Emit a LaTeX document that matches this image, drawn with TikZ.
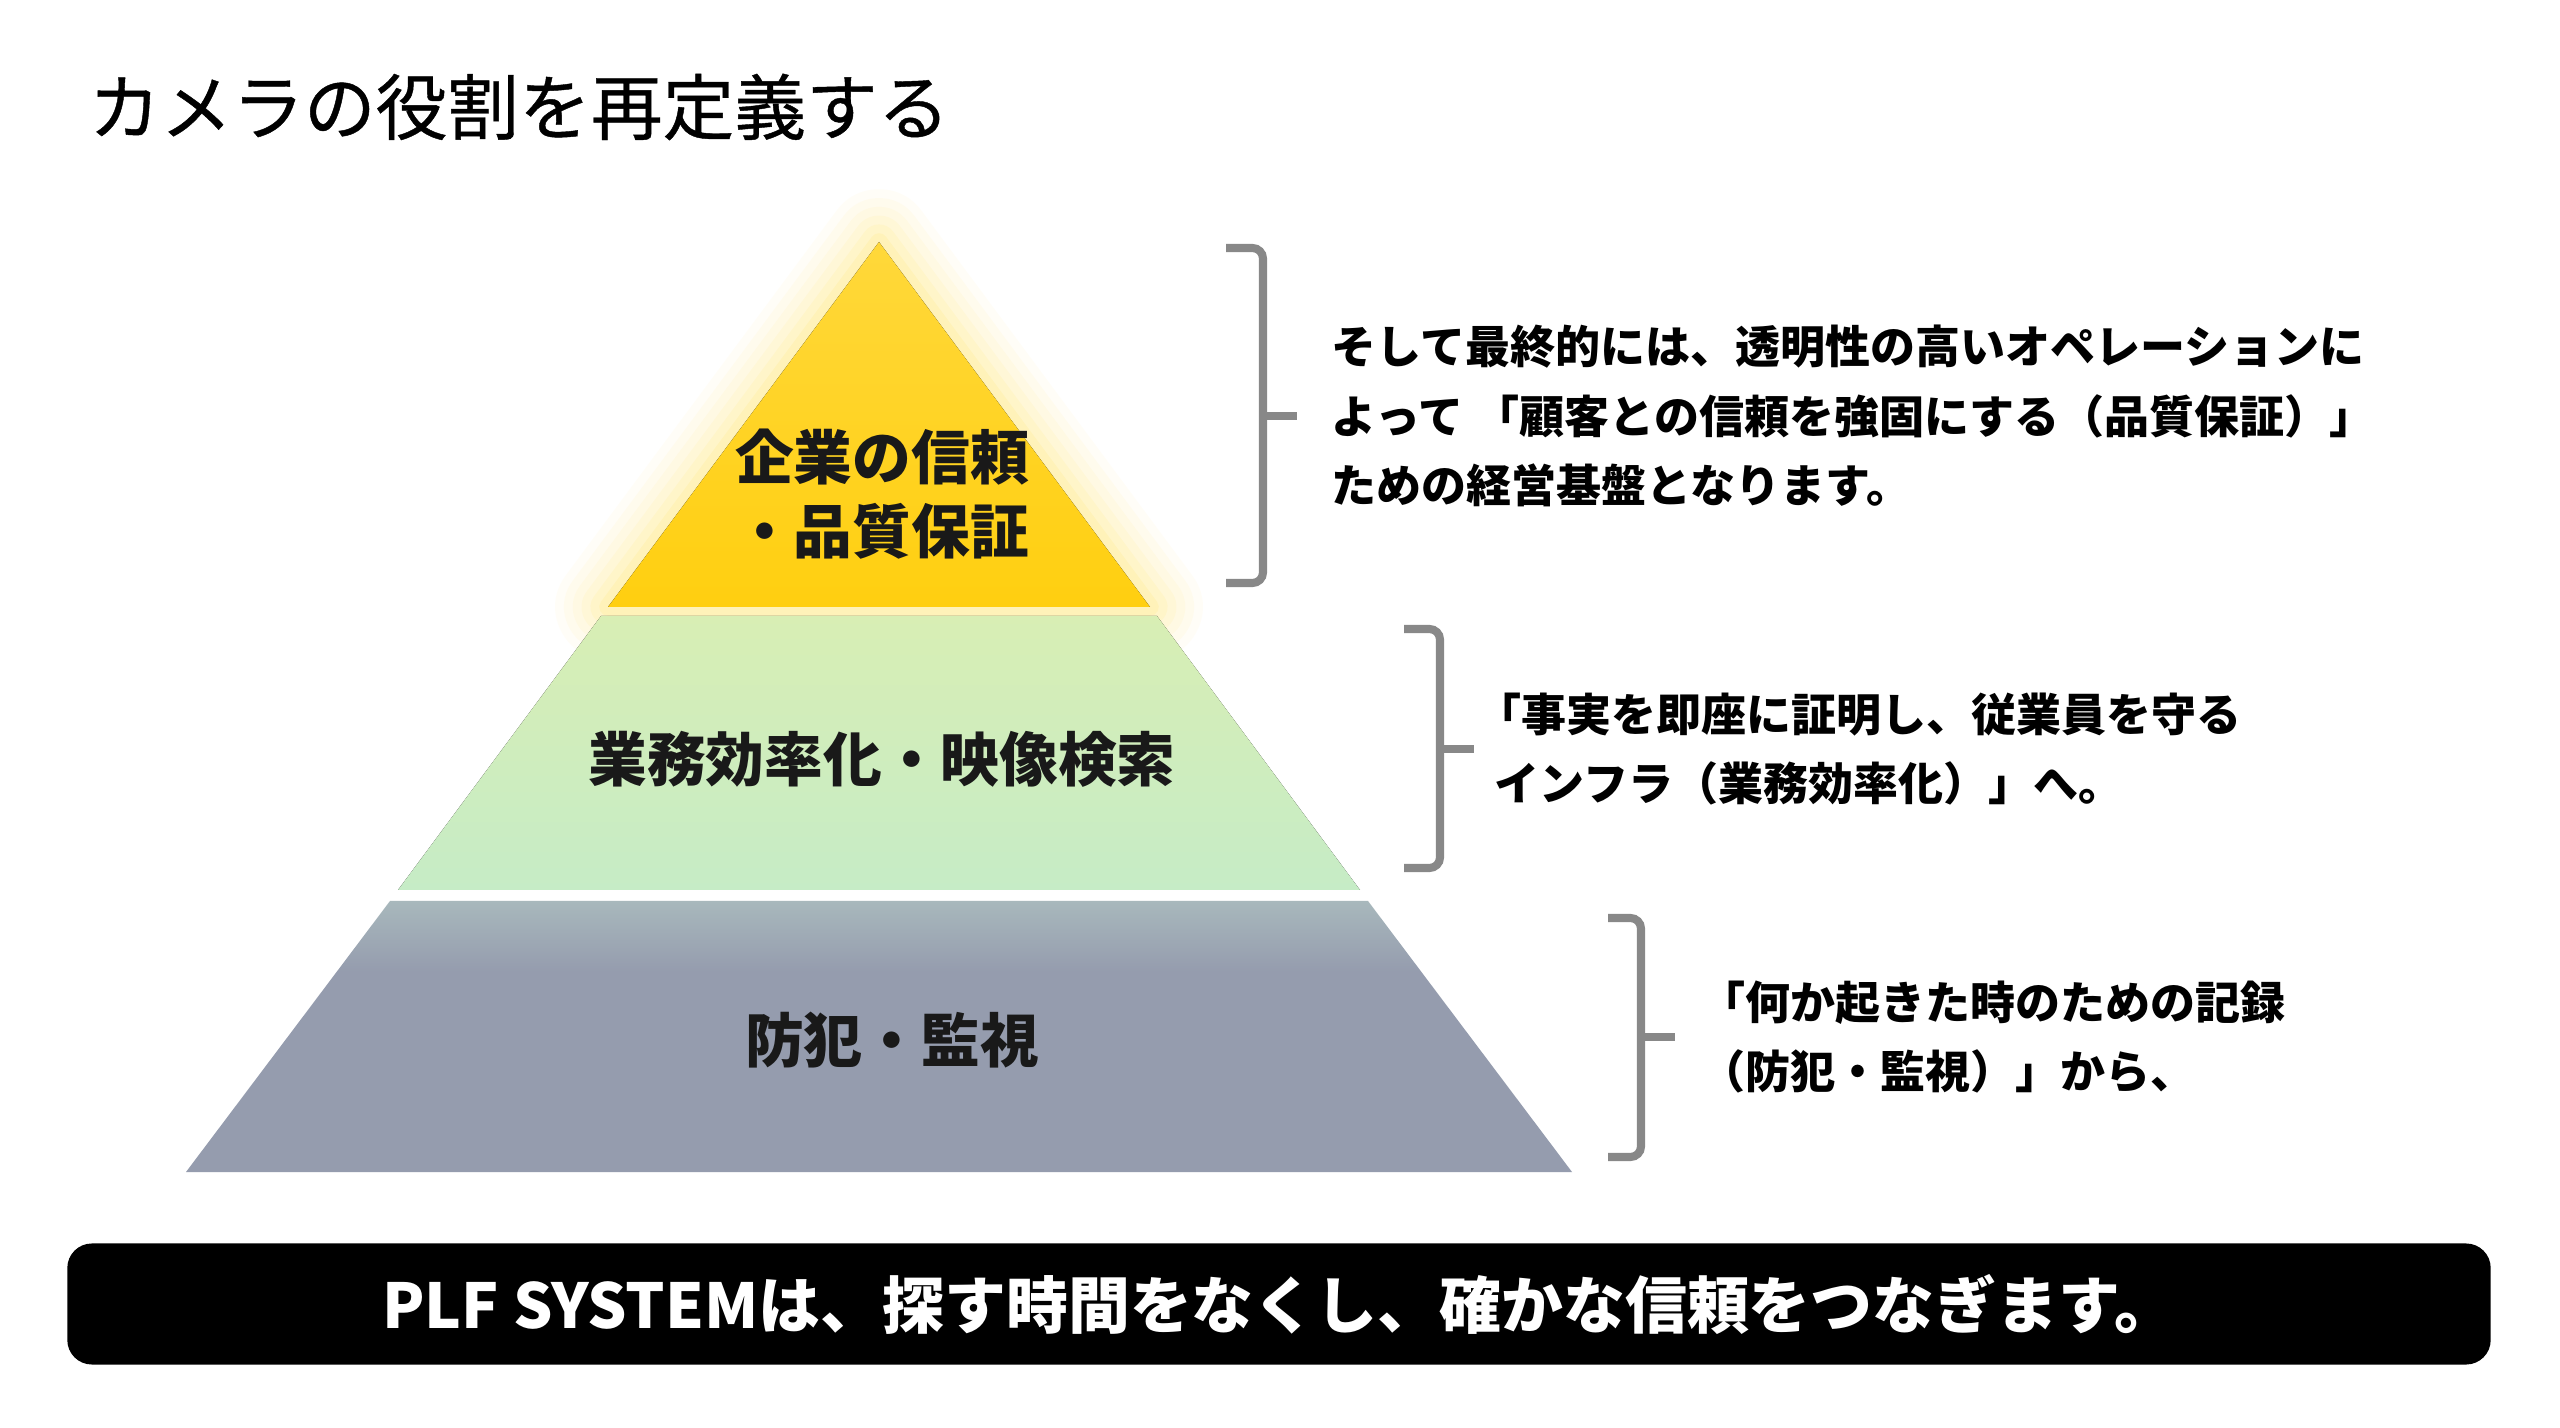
\documentclass[tikz,border=0pt]{standalone}
\usepackage{fontspec}
\setmainfont{Noto Sans CJK JP}
\newfontfamily\titlefont[FakeBold=0.6]{Noto Sans CJK JP}
\usepackage{tikz}
\definecolor{apexyellow}{RGB}{255,216,58}
\definecolor{coreyellow}{RGB}{255,207,16}
\definecolor{glowyellow}{RGB}{255,226,70}
\definecolor{midgreentop}{RGB}{216,238,180}
\definecolor{midgreen}{RGB}{198,236,198}
\definecolor{basegraytop}{RGB}{168,184,188}
\definecolor{basegray}{RGB}{149,156,174}
\definecolor{brackgray}{RGB}{136,136,136}
\pgfdeclareverticalshading{basefade}{100bp}{color(0bp)=(basegray); color(62bp)=(basegray); color(75bp)=(basegraytop); color(100bp)=(basegraytop)}

\begin{document}
\begin{tikzpicture}[x=0.01cm, y=-0.01cm,
  lvl/.style={font=\fontsize{16.7}{21}\selectfont\bfseries, align=center, text=black!90, inner sep=0},
  note/.style={anchor=west, font=\fontsize{12.8}{19.8}\selectfont\bfseries, align=left, inner sep=0},
  brk/.style={draw=brackgray, line width=2.3pt, rounded corners=3pt}]
  \useasboundingbox[fill=white] (0,0) rectangle (2560,1428);

  \node[anchor=west, inner sep=0, font=\fontsize{20.4}{24}\titlefont] (title) at (88,107) {カメラの役割を再定義する};

  % glow round the apex
  \foreach \w/\o in {30/0.04, 25/0.05, 20/0.06, 15/0.07, 10/0.09, 5/0.12}
    \draw[glowyellow, line width=\w pt, line join=round, opacity=\o] (879,242) -- (608,607) -- (1150,607) -- cycle;

  \fill[top color=apexyellow, bottom color=coreyellow] (879,242) -- (608,607) -- (1150,607) -- cycle;
  \fill[top color=midgreentop, bottom color=midgreen] (601,616) -- (1157,616) -- (1360,890) -- (398,890) -- cycle;
  \shade[shading=basefade] (390,901) -- (1368,901) -- (1572,1172) -- (186,1172) -- cycle;

  \node[lvl] (lvltop) at (882,494) {企業の信頼\\・品質保証};
  \node[lvl] (lvlmid) at (882,759) {業務効率化・映像検索};
  \node[lvl] (lvlbase) at (892,1040) {防犯・監視};

  % brackets
  \draw[brk] (1226,248) -- (1263,248) -- (1263,583) -- (1226,583);
  \draw[brk] (1263,416) -- (1297,416);
  \draw[brk] (1404,629) -- (1440,629) -- (1440,868) -- (1404,868);
  \draw[brk] (1440,749) -- (1474,749);
  \draw[brk] (1608,918) -- (1641,918) -- (1641,1157) -- (1608,1157);
  \draw[brk] (1641,1037) -- (1675,1037);

  \node[note] (note1) at (1331,416) {そして最終的には、透明性の高いオペレーションに\\よって\hspace{0.25em}「顧客との信頼を強固にする（品質保証）」\\ための経営基盤となります。};
  \node[note] (note2) at (1494,749) {\hspace*{-0.4em}「事実を即座に証明し、従業員を守る\\インフラ（業務効率化）」へ。};
  \node[note] (note3) at (1700,1037) {「何か起きた時のための記録\\（防犯・監視）」から、};

  \node[fill=black, rounded corners=7pt, minimum width=24.22cm, minimum height=1.21cm, inner sep=0,
    text=white, font=\fontsize{17.6}{20}\selectfont\bfseries] (banner) at (1279,1304)
    {PLF SYSTEMは、探す時間をなくし、確かな信頼をつなぎます。};
\end{tikzpicture}
\end{document}
